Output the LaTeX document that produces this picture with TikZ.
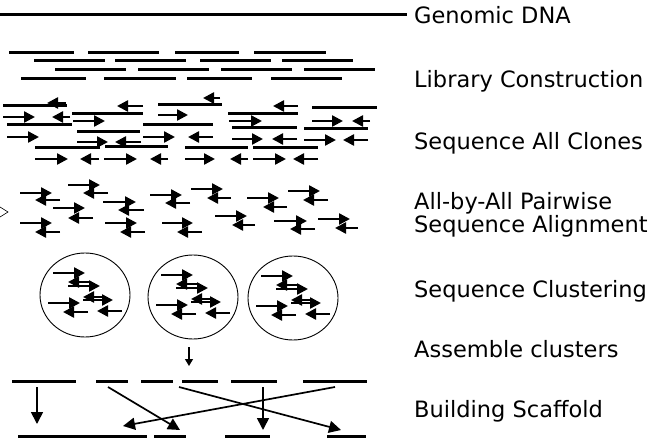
\documentclass[tikz,border=0pt]{standalone}
\usepackage{fontspec}
\setmainfont{DejaVu Sans}
\usetikzlibrary{arrows.meta,shapes.geometric}

\tikzset{
  seg/.style={line width=3pt},
  rd/.style={line width=2.4pt,-{Triangle[length=11pt,width=11pt]}},
  scafarrow/.style={line width=1.7pt,-{Triangle[length=12pt,width=12pt]}},
  steplabel/.style={anchor=base west,inner sep=0pt,font=\fontsize{22.5}{27}\selectfont},
  clusterring/.style={draw,ellipse,line width=0.9pt,minimum width=90pt,minimum height=84pt,inner sep=0pt},
  clusterarr/.pic={
    \draw[rd] (-32,-22) -- (0,-22);
    \draw[rd] (5,-13) -- (-17,-13);
    \draw[rd] (-17,-9) -- (15,-9);
    \draw[rd] (18,2) -- (-2,2);
    \draw[rd] (-2,5) -- (28,5);
    \draw[rd] (-37,8) -- (-5,8);
    \draw[rd] (3,17) -- (-22,17);
    \draw[rd] (37,16) -- (12,16);
  }
}

\begin{document}
\begin{tikzpicture}[x=1pt,y=-1pt]
\useasboundingbox (0,0) rectangle (650,438);

% step labels
\node[steplabel] (t1) at (414,24) {Genomic DNA};
\node[steplabel] (t2) at (414,88) {Library Construction};
\node[steplabel] (t3) at (414,150) {Sequence All Clones};
\node[steplabel] (t4) at (414,210) {All-by-All Pairwise};
\node[steplabel] (t5) at (414,233) {Sequence Alignment};
\node[steplabel] (t6) at (414,297) {Sequence Clustering};
\node[steplabel] (t7) at (414,357) {Assemble clusters};
\node[steplabel] (t8) at (414,417) {Building Scaffold};

% genomic DNA
\coordinate (g0) at (0,14.5);
\draw[line width=3.5pt] (g0) -- (407,14.5);

% library of clones
\foreach \a/\b in {9/74,88/159,175/239,254/326} \draw[seg] (\a,52.5) -- (\b,52.5);
\foreach \a/\b in {34/105,115/186,200/271,282/353} \draw[seg] (\a,61) -- (\b,61);
\foreach \a/\b in {55/126,138/209,221/292,304/375} \draw[seg] (\a,70) -- (\b,70);
\foreach \a/\b in {21/86,104/176,187/252,271/342} \draw[seg] (\a,79) -- (\b,79);

% sequenced clones: inserts
\foreach \a/\b/\y in {3/67/106,72/143/114,7/72/125,77/140/132,35/100/148,105/168/147,
    158/222/105,143/213/125,185/248/148,228/298/114,232/297/128,253/318/148,
    312/377/108,304/368/129}
  \draw[seg] (\a,\y) -- (\b,\y);
% sequenced clones: reads
\foreach \a/\b/\y in {66/47/103,3/35/117,70/52/117,143/117/106,73/105/121,7/39/137,
    77/108/142,141/115/142,35/68/159,99/80/159,104/137/159,168/150/159,
    220/203/98,158/188/115,143/175/137,213/188/137,185/215/159,248/230/159,
    298/273/106,229/262/121,232/263/139,297/272/139,253/286/159,318/293/159,
    312/343/121,370/352/121,304/336/140,368/343/140}
  \draw[rd] (\a,\y) -- (\b,\y);

% pairwise alignments
\draw[line width=0.6pt] (0,207) -- (8,212) -- (0,217);
\foreach \a/\b/\ya/\c/\d/\yb in {
    20/52/193/60/35/200, 68/100/185/108/83/193, 103/136/202/144/118/210,
    150/182/195/190/165/203, 53/85/208/93/68/218, 20/52/223/60/35/232,
    105/137/223/145/120/232, 162/193/223/202/177/232, 191/223/189/231/207/198,
    247/279/198/287/263/207, 288/320/191/328/303/200, 215/247/216/255/232/225,
    274/307/221/315/290/229, 318/350/219/358/335/228}
  {\draw[rd] (\a,\ya) -- (\b,\ya);
   \draw[rd] (\c,\yb) -- (\d,\yb);}

% clusters
\node[clusterring] (c1) at (85,295) {};
\node[clusterring] (c2) at (193,297) {};
\node[clusterring] (c3) at (293,298) {};
\pic at (c1.center) {clusterarr};
\pic at (c2.center) {clusterarr};
\pic at (c3.center) {clusterarr};

% assembly step
\coordinate (a0) at (189,347);
\coordinate (a1) at (189,366);
\draw[line width=1.2pt,-{Triangle[length=7pt,width=8pt]}] (a0) -- (a1);

% contigs
\foreach \a/\b in {12/76,96/128,141/173,182/218,231/277,303/367} \draw[seg] (\a,381) -- (\b,381);
% scaffold
\foreach \a/\b in {18/82,82/147,154/186,225/270,327/366} \draw[seg] (\a,436) -- (\b,436);

\coordinate (s1) at (37,387);  \coordinate (e1) at (37,424);
\coordinate (s2) at (108,387); \coordinate (e2) at (180,430);
\coordinate (s3) at (179,387); \coordinate (e3) at (341,430);
\coordinate (s4) at (263,387); \coordinate (e4) at (263,430);
\coordinate (s5) at (335,387); \coordinate (e5) at (123,426);
\foreach \i in {1,...,5} \draw[scafarrow] (s\i) -- (e\i);
\end{tikzpicture}
\end{document}
